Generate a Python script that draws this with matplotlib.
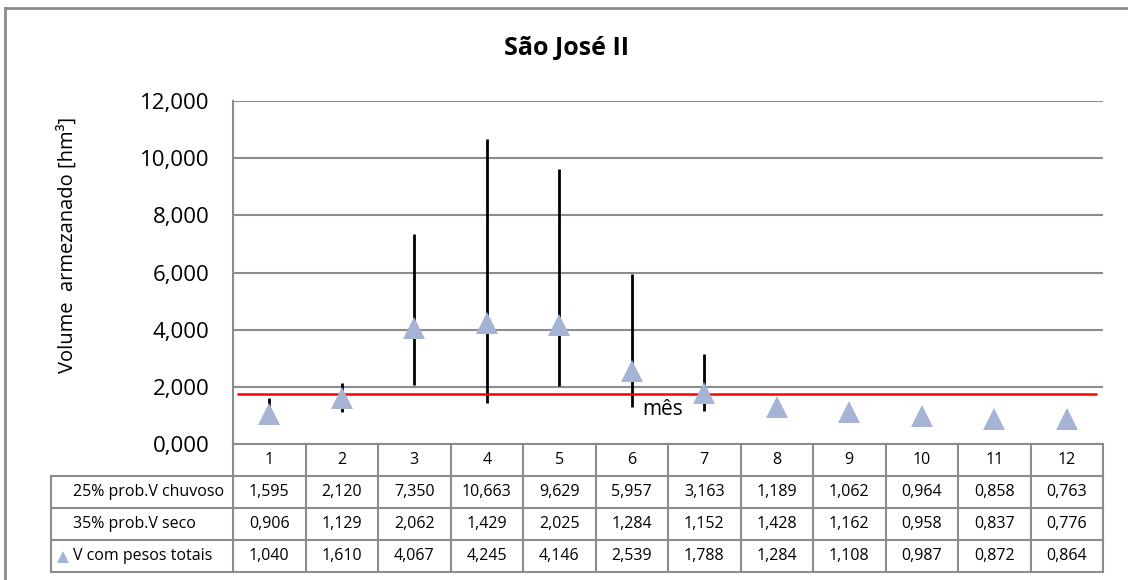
import matplotlib
matplotlib.use("Agg")
import matplotlib.pyplot as plt
from matplotlib.lines import Line2D

# -- data --------------------------------------------------------------------
months   = list(range(1, 13))
chuvoso  = [1.595, 2.120, 7.350, 10.663, 9.629, 5.957, 3.163, 1.189, 1.062, 0.964, 0.858, 0.763]
seco     = [0.906, 1.129, 2.062, 1.429, 2.025, 1.284, 1.152, 1.428, 1.162, 0.958, 0.837, 0.776]
pesos    = [1.040, 1.610, 4.067, 4.245, 4.146, 2.539, 1.788, 1.284, 1.108, 0.987, 0.872, 0.864]
ref_level = 1.75
y_ticks  = [0, 2, 4, 6, 8, 10, 12]
row_labels = ["25% prob.V chuvoso", "35% prob.V seco", "V com pesos totais"]

# -- style -------------------------------------------------------------------
FONT      = "Open Sans"
GRID_GRAY = "#8c8c8c"
TRI_BLUE  = "#a5b4d4"
RED       = "#ff0000"


def fmt(v):
    return f"{v:.3f}".replace(".", ",")


W, H = 1128, 580
fig = plt.figure(figsize=(W / 100, H / 100), dpi=100)
fig.patch.set_facecolor("white")

# plot area in pixel units
L, R, T, B = 233, 1103, 101, 444
ax = fig.add_axes([L / W, 1 - B / H, (R - L) / W, (B - T) / H])
ax.set_xlim(0.5, 12.5)
ax.set_ylim(0, 12)
ax.set_yticks(y_ticks)
ax.set_yticklabels([fmt(v) for v in y_ticks], fontsize=16, family=FONT)
ax.tick_params(axis="y", length=0, pad=17)
ax.set_xticks([])
for s in ["top", "right", "bottom"]:
    ax.spines[s].set_visible(False)
ax.spines["left"].set_color(GRID_GRAY)
ax.spines["left"].set_linewidth(1.5)
ax.grid(axis="y", color=GRID_GRAY, linewidth=1.5)
ax.set_axisbelow(True)

# high-low lines and markers
lows  = [min(a, b) for a, b in zip(chuvoso, seco)]
highs = [max(a, b) for a, b in zip(chuvoso, seco)]
ax.vlines(months, lows, highs, color="black", linewidth=2, zorder=3)
ax.hlines(ref_level, 0.55, 12.42, color=RED, linewidth=1.8, zorder=3)
ax.plot(months, pesos, linestyle="none", marker="^", markersize=16,
        color=TRI_BLUE, markeredgewidth=0, zorder=4)

ax.set_ylabel("Volume  armezanado [hm³]", fontsize=14.5, family=FONT)
ax.yaxis.set_label_coords(-0.178, 0.58)
ax.text(6.42, 1.2, "mês", fontsize=15, family=FONT, ha="center", va="center")

fig.text(567 / W, 1 - 48 / H, "São José II", fontsize=18, fontweight="bold",
         family=FONT, ha="center", va="center")

# -- data table (overlay in pixel coordinates) --------------------------------
ov = fig.add_axes([0, 0, 1, 1])
ov.set_xlim(0, W)
ov.set_ylim(H, 0)
ov.axis("off")
ov.patch.set_alpha(0)

col_w = (R - L) / 12
row_edges = [444, 476, 508, 540, 572]
lab_left = 51
lw_t = 1.5

def hline(y, x0, x1):
    ov.add_line(Line2D([x0, x1], [y, y], color=GRID_GRAY, linewidth=lw_t))

def vline(x, y0, y1):
    ov.add_line(Line2D([x, x], [y0, y1], color=GRID_GRAY, linewidth=lw_t))

hline(row_edges[0], L, R)
for y in row_edges[1:]:
    hline(y, lab_left, R)
vline(lab_left, row_edges[1], row_edges[-1])
for k in range(13):
    vline(L + k * col_w, row_edges[0], row_edges[-1])

for k, m in enumerate(months):
    cx = L + (k + 0.5) * col_w
    ov.text(cx, (row_edges[0] + row_edges[1]) / 2, str(m), fontsize=11.5,
            family=FONT, ha="center", va="center")

for r, vals in enumerate([chuvoso, seco, pesos]):
    cy = (row_edges[r + 1] + row_edges[r + 2]) / 2
    ov.text(73, cy, row_labels[r], fontsize=11.5, family=FONT,
            ha="left", va="center")
    for k, v in enumerate(vals):
        cx = L + (k + 0.5) * col_w
        ov.text(cx, cy, fmt(v), fontsize=11.5, family=FONT,
                ha="center", va="center")

# legend key for the marker row
ov.plot([63], [(row_edges[3] + row_edges[4]) / 2 + 1], linestyle="none",
        marker="^", markersize=9, color=TRI_BLUE, markeredgewidth=0)

# outer chart frame (clipped at right and bottom like the source)
ov.add_line(Line2D([5, 5], [8, H], color=GRID_GRAY, linewidth=2))
ov.add_line(Line2D([5, W], [8, 8], color=GRID_GRAY, linewidth=2))

fig.savefig("out.png", dpi=100, facecolor="white")
